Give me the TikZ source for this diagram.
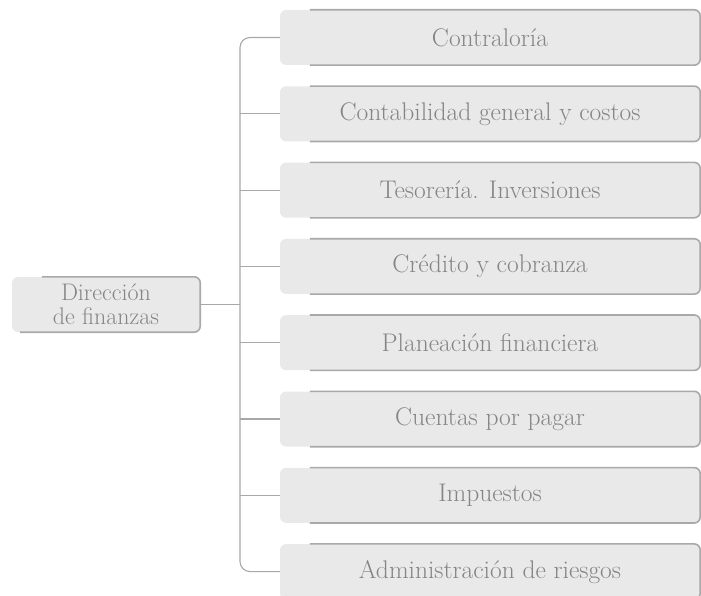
\documentclass[tikz,border=0pt]{standalone}
\usetikzlibrary{positioning}
\definecolor{boxfill}{HTML}{E9E9E9}
\definecolor{boxedge}{HTML}{A9A9A9}
\definecolor{txt}{HTML}{858585}
\definecolor{wire}{HTML}{A8A8A8}
\tikzset{
  unitbox/.style={fill=boxfill, rounded corners=6pt, minimum width=420pt, minimum height=55pt,
    text=txt, font=\fontsize{25.5}{28}\selectfont, inner sep=0pt, anchor=center},
  headbox/.style={fill=boxfill, rounded corners=6pt, minimum width=188pt, minimum height=55pt,
    text=txt, font=\fontsize{24}{24}\selectfont, align=center, inner sep=0pt},
  edge/.style={boxedge, line width=1.6pt, rounded corners=6pt},
  wireline/.style={wire, line width=1.1pt}
}
\begin{document}
\begin{tikzpicture}[x=1pt,y=-1pt]
\useasboundingbox (0,0) rectangle (701,596);
% head node
\node[headbox] (head) at (106,304.5) {Dirección\\de finanzas};
\draw[edge] ([xshift=30pt]head.north west) -- (head.north east) -- (head.south east) -- ([xshift=8pt]head.south west);
% unit boxes
\foreach \i/\t in {0/Contraloría,1/Contabilidad general y costos,2/Tesorería. Inversiones,3/Crédito y cobranza,4/Planeación financiera,5/Cuentas por pagar,6/Impuestos,7/Administración de riesgos}{
  \node[unitbox] (u\i) at (490,{37.5+76.3*\i}) {\t};
  \draw[edge] ([xshift=30pt]u\i.north west) -- (u\i.north east) -- (u\i.south east) -- ([xshift=30pt]u\i.south west);
}
% bus
\coordinate (bt) at (240,37.5);
\coordinate (bb) at (240,571.6);
\draw[wireline, rounded corners=10pt] (u0.west) -- (bt) -- (bb) -- (u7.west);
\foreach \i in {1,...,6}{
  \draw[wireline] (u\i.west) -- (u\i.west -| bt);
}
\draw[wireline] (head.east) -- (head.east -| bt);
\end{tikzpicture}
\end{document}
